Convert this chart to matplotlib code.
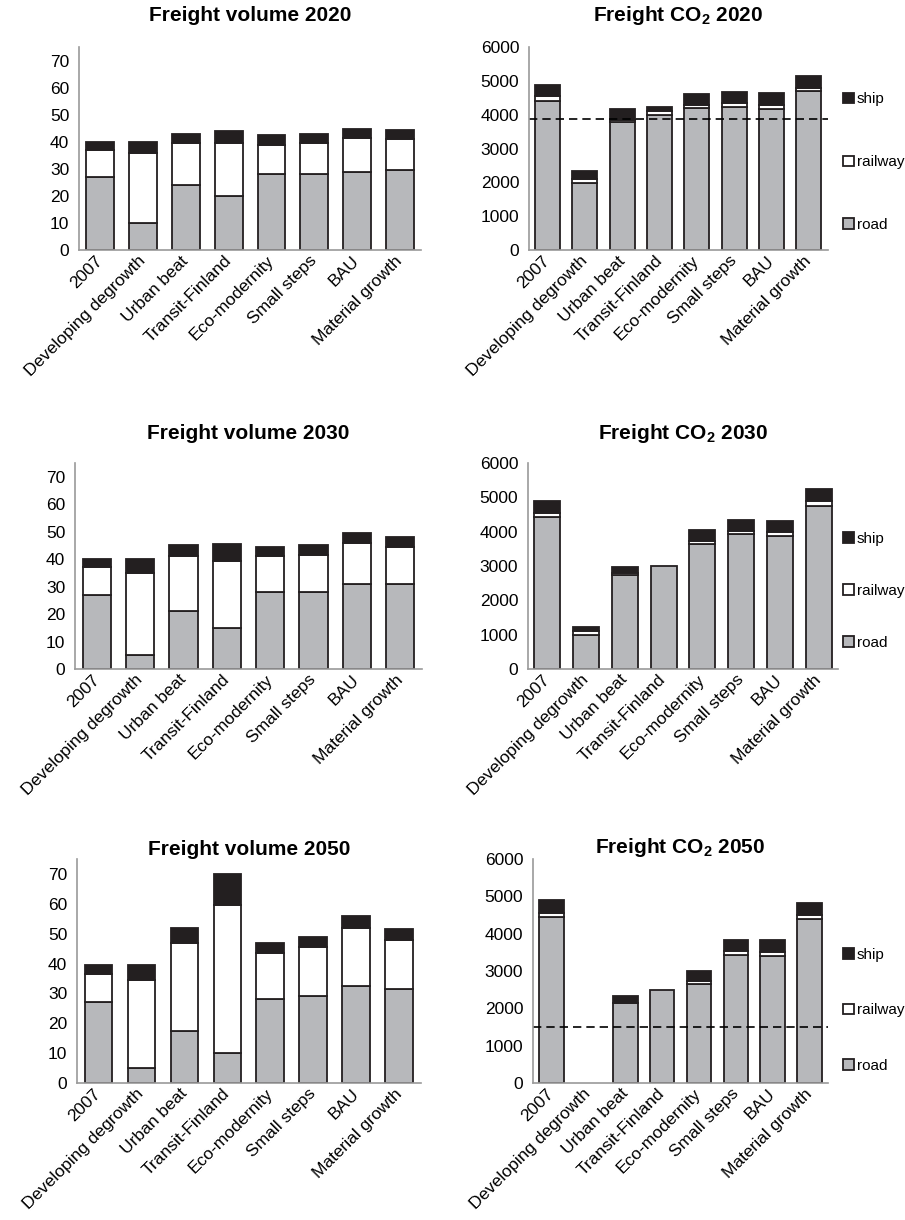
import matplotlib.pyplot as plt
import numpy as np

plt.rcParams["font.family"] = ["Liberation Sans", "DejaVu Sans"]
plt.rcParams["mathtext.fontset"] = "custom"
plt.rcParams["mathtext.rm"] = "Liberation Sans"
plt.rcParams["mathtext.bf"] = "Liberation Sans:bold"

SCENARIOS = ["2007", "Developing degrowth", "Urban beat", "Transit-Finland",
             "Eco-modernity", "Small steps", "BAU", "Material growth"]

# freight volume (segment heights)
vol_2020_road = [27, 10, 24, 20, 28, 28, 29, 29.5]
vol_2020_rail = [10, 26, 15.5, 19.5, 11, 11.5, 12.5, 11.5]
vol_2020_ship = [3, 4, 3.5, 4.5, 3.5, 3.5, 3.3, 3.4]

vol_2030_road = [27, 5, 21, 15, 28, 28, 31, 31]
vol_2030_rail = [10, 30, 20, 24.5, 13, 13.5, 15, 13.5]
vol_2030_ship = [3, 5, 4, 6, 3.5, 3.5, 3.5, 3.5]

vol_2050_road = [27, 5, 17.5, 10, 28, 29, 32.5, 31.5]
vol_2050_rail = [9.5, 29.5, 29.5, 49.5, 15.5, 16.5, 19.5, 16.5]
vol_2050_ship = [3, 5, 4.8, 10.5, 3.5, 3.5, 4, 3.5]

# freight CO2 (segment heights)
co2_2020_road = [4420, 1990, 3800, 4000, 4190, 4240, 4170, 4690]
co2_2020_rail = [120, 120, 50, 100, 90, 100, 110, 100]
co2_2020_ship = [350, 230, 310, 130, 330, 330, 350, 360]

co2_2030_road = [4420, 980, 2740, 3000, 3630, 3920, 3860, 4750]
co2_2030_rail = [120, 130, 50, 0, 100, 110, 130, 130]
co2_2030_ship = [350, 120, 190, 0, 310, 310, 330, 350]

co2_2050_road = [4440, 0, 2140, 2490, 2650, 3430, 3390, 4380]
co2_2050_rail = [120, 0, 0, 0, 80, 100, 120, 110]
co2_2050_ship = [340, 0, 190, 0, 280, 310, 330, 340]

co2_target_2020 = 3870
co2_target_2050 = 1500

ROAD = "#b7b8bb"
RAIL = "white"
SHIP = "#231f20"
EDGE = "#231f20"


def stacked(ax, road, rail, ship, ymax, step, width):
    x = np.arange(len(SCENARIOS))
    road = np.array(road, dtype=float)
    rail = np.array(rail, dtype=float)
    ship = np.array(ship, dtype=float)
    kw = dict(width=width, edgecolor=EDGE, linewidth=1.3)
    b1 = ax.bar(x, road, color=ROAD, **kw)
    b2 = ax.bar(x, rail, bottom=road, color=RAIL, **kw)
    b3 = ax.bar(x, ship, bottom=road + rail, color=SHIP, **kw)
    # empty segments should not leave an edge line
    for bars, vals in ((b1, road), (b2, rail), (b3, ship)):
        for b, v in zip(bars, vals):
            if v == 0:
                b.set_visible(False)
    ax.set_xlim(-0.5, len(SCENARIOS) - 0.5)
    ax.set_ylim(0, ymax)
    ax.set_yticks(np.arange(0, ymax + 1, step))
    ax.set_xticks(x)
    ax.set_xticklabels(SCENARIOS, rotation=45, ha="right", va="center",
                       rotation_mode="anchor", fontsize=12.5)
    ax.tick_params(axis="both", length=0, labelsize=12.5, pad=7)
    ax.tick_params(axis="x", pad=6)
    for s in ("top", "right"):
        ax.spines[s].set_visible(False)
    for s in ("left", "bottom"):
        ax.spines[s].set_color("#9a9a9a")
        ax.spines[s].set_linewidth(1.2)
    return b3, b2, b1


fig = plt.figure(figsize=(9.05, 12.2), dpi=100)

rows = [
    ("2020", vol_2020_road, vol_2020_rail, vol_2020_ship,
     co2_2020_road, co2_2020_rail, co2_2020_ship, co2_target_2020,
     [0.0873, 0.795, 0.378, 0.1664], [0.5845, 0.795, 0.330, 0.1664], 19, 3.2, 0.433),
    ("2030", vol_2030_road, vol_2030_rail, vol_2030_ship,
     co2_2030_road, co2_2030_rail, co2_2030_ship, None,
     [0.0829, 0.4516, 0.3834, 0.1689], [0.5834, 0.4516, 0.3425, 0.1689], 17, 2.5, 0.379),
    ("2050", vol_2050_road, vol_2050_rail, vol_2050_ship,
     co2_2050_road, co2_2050_rail, co2_2050_ship, co2_target_2050,
     [0.0851, 0.1123, 0.380, 0.1836], [0.5890, 0.1123, 0.326, 0.1836], 1, 2.7, 0.324),
]

for year, vr, vl, vs, cr, cl, cs, target, pos_v, pos_c, tpad, lspace, ly in rows:
    ax = fig.add_axes(pos_v)
    stacked(ax, vr, vl, vs, 75, 10, 0.65)
    ax.set_title(f"Freight volume {year}", fontsize=15, fontweight="bold", pad=tpad)

    ax = fig.add_axes(pos_c)
    handles = stacked(ax, cr, cl, cs, 6000, 1000, 0.67)
    ax.set_title(r"Freight CO$_\mathbf{2}$ " + year, fontsize=15, fontweight="bold", pad=tpad)
    if target is not None:
        ax.axhline(target, color="black", linestyle=(0, (5, 3)), linewidth=1.2,
                   xmin=0, xmax=1, clip_on=False)
    # legend sits to the right of the bars, manually spread out
    bb = ax.get_position()
    lx = (843 / 905 - bb.x0) / bb.width
    ax.legend(handles, ["ship", "railway", "road"], loc="center left",
              bbox_to_anchor=(lx, ly), frameon=False, fontsize=11,
              handlelength=0.7, handleheight=0.7, handletextpad=0.2,
              labelspacing=lspace, borderaxespad=0, borderpad=0)

fig.savefig("out.png", dpi=100)
